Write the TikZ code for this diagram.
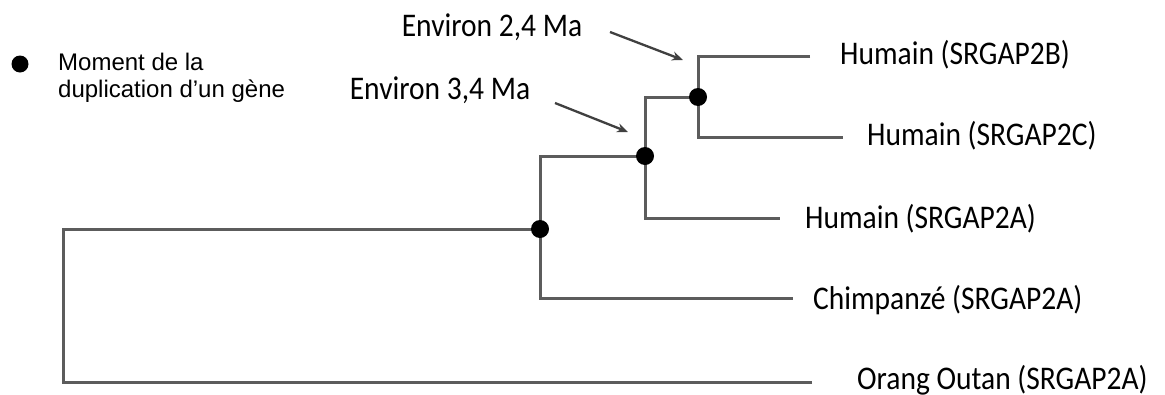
\documentclass[tikz,border=0pt]{standalone}
\usepackage{fontspec}
\setmainfont{Carlito}
\newfontfamily\legfont{Liberation Sans}
\usetikzlibrary{arrows.meta}
\pgfdeclarelayer{bg}
\pgfdeclarelayer{paper}
\pgfsetlayers{paper,bg,main}
\newcommand{\tallish}[1]{\scalebox{1}[1.12]{#1}}
\begin{document}
\begin{tikzpicture}[x=1pt,y=-1pt,
  branch/.style={draw=black!64, line width=3pt},
  dupdot/.style={circle, fill=black, inner sep=0pt, minimum size=18pt},
  leaf/.style={anchor=west, inner sep=0pt, font=\fontsize{29.5}{32}\selectfont},
  agelabel/.style={anchor=center, inner sep=0pt, font=\fontsize{29.5}{32}\selectfont},
  pointer/.style={draw=black!75, line width=2.3pt, -{Stealth[length=11pt,width=9pt]}}]
\begin{pgfonlayer}{paper}
\fill[white] (0,0) rectangle (1165,394);
\end{pgfonlayer}
\useasboundingbox (0,0) rectangle (1165,394);

% legend
\node[dupdot, minimum size=17pt] (ldot) at (20,64) {};
\node[anchor=west, inner sep=0pt, align=left, font=\legfont\fontsize{24}{27}\selectfont] (ltext) at (58,78) {Moment de la\\duplication d’un gène};

% duplication nodes
\node[dupdot] (n1) at (540,229) {};
\node[dupdot] (n2) at (645,156) {};
\node[dupdot] (n3) at (698,97) {};

% tree corners / leaf ends
\coordinate (rt) at (63,229);
\coordinate (rb) at (63,382);
\coordinate (oe) at (812,382);
\coordinate (n1t) at (540,156);
\coordinate (n1b) at (540,298);
\coordinate (ce) at (793,298);
\coordinate (n2t) at (645,97);
\coordinate (n2b) at (645,218);
\coordinate (h2ae) at (780,218);
\coordinate (n3t) at (698,56);
\coordinate (n3b) at (698,137);
\coordinate (h2be) at (810,56);
\coordinate (h2ce) at (843,137);

% leaf labels
\node[leaf] (l2b) at (840,55) {\tallish{Humain (SRGAP2B)}};
\node[leaf] (l2c) at (867,136) {\tallish{Humain (SRGAP2C)}};
\node[leaf] (l2a) at (805,219) {\tallish{Humain (SRGAP2A)}};
\node[leaf] (lch) at (813,300) {\tallish{Chimpanzé (SRGAP2A)}};
\node[leaf] (lor) at (857,380) {\tallish{Orang Outan (SRGAP2A)}};

% age labels
\node[agelabel] (e24) at (492,27) {\tallish{Environ 2,4 Ma}};
\node[agelabel] (e34) at (440,90) {\tallish{Environ 3,4 Ma}};
\coordinate (a1s) at (610,32);
\coordinate (a1e) at (683,60);
\coordinate (a2s) at (555,103);
\coordinate (a2e) at (628,132);

\begin{pgfonlayer}{bg}
\draw[branch] (oe) -- (rb) -- (rt) -- (n1.center);
\draw[branch] (n2.center) -- (n1t) -- (n1b) -- (ce);
\draw[branch] (n3.center) -- (n2t) -- (n2b) -- (h2ae);
\draw[branch] (h2be) -- (n3t) -- (n3b) -- (h2ce);
\end{pgfonlayer}

\draw[pointer] (a1s) -- (a1e);
\draw[pointer] (a2s) -- (a2e);
\end{tikzpicture}
\end{document}
